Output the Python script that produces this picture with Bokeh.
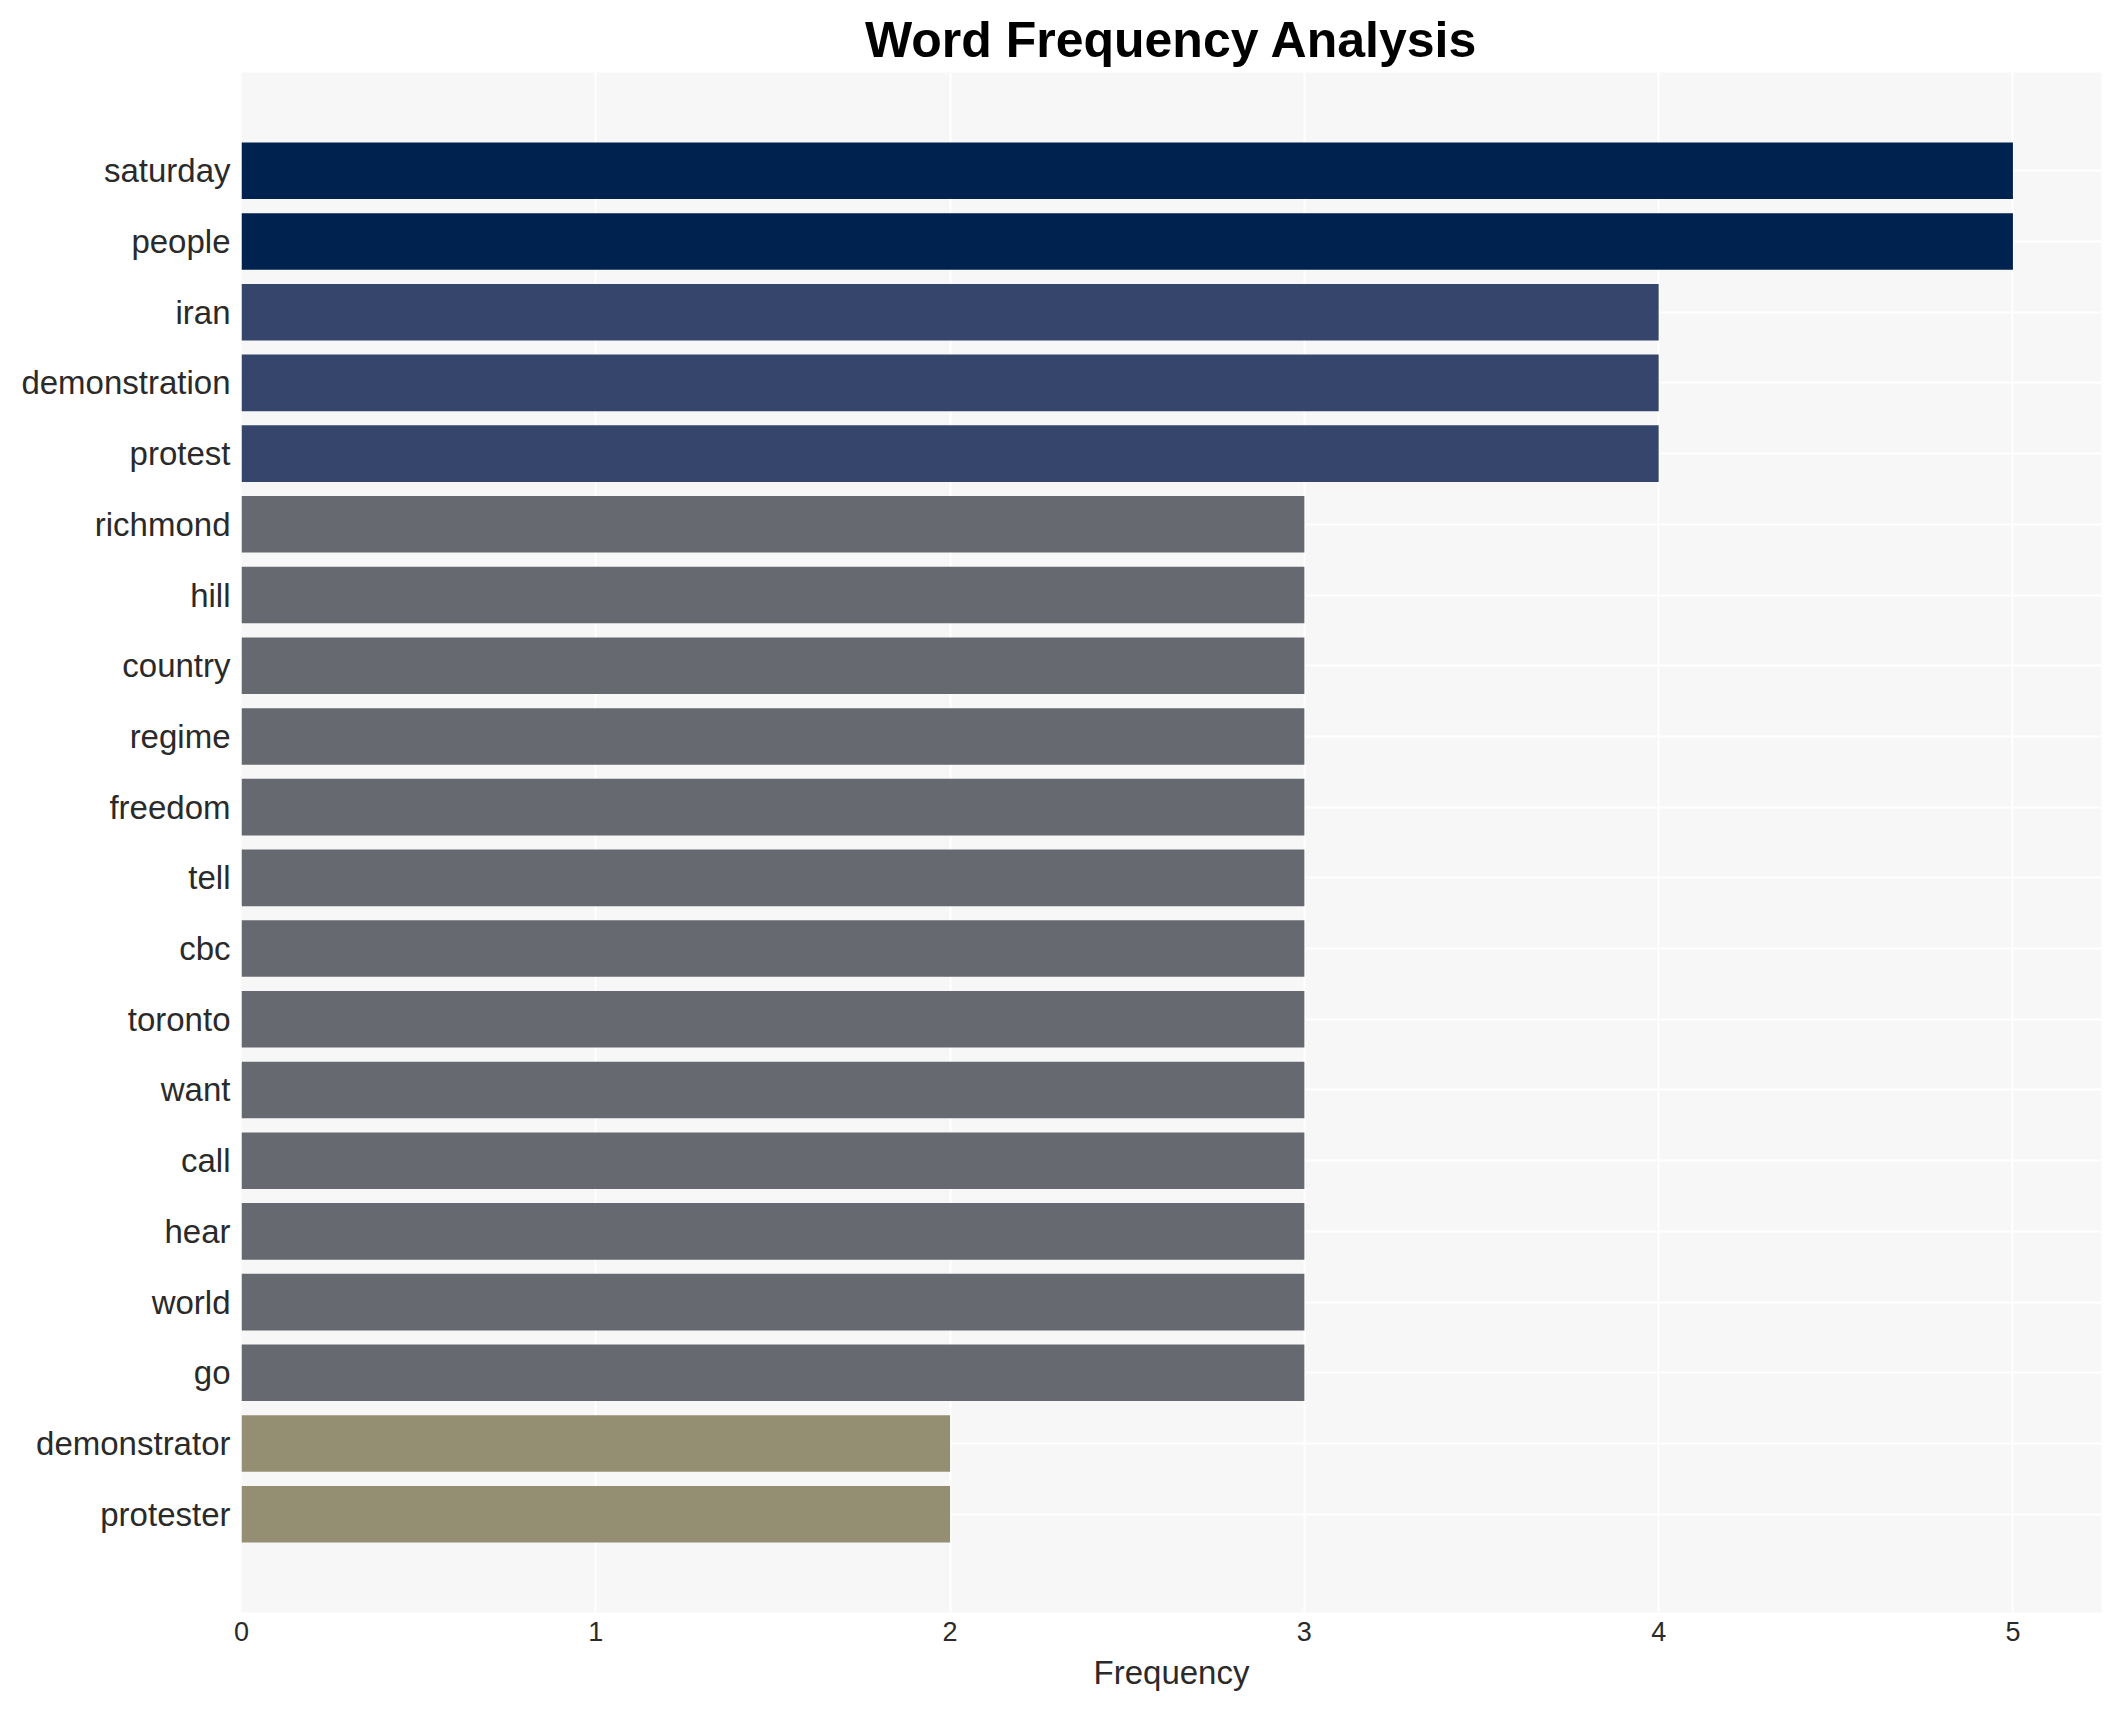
from bokeh.plotting import figure
from bokeh.models import ColumnDataSource, FactorRange
from bokeh.embed import file_html
from bokeh.resources import INLINE

words = ["saturday", "people", "iran", "demonstration", "protest", "richmond", "hill",
         "country", "regime", "freedom", "tell", "cbc", "toronto", "want", "call", "hear",
         "world", "go", "demonstrator", "protester"]
counts = [5, 5, 4, 4, 4, 3, 3, 3, 3, 3, 3, 3, 3, 3, 3, 3, 3, 3, 2, 2]
x_ticks = [0, 1, 2, 3, 4, 5]

palette = {5: "#00224E", 4: "#35456C", 3: "#666970", 2: "#948F72"}
colors = [palette[c] for c in counts]

src = ColumnDataSource(dict(word=words, count=counts, color=colors))

FONT = "Liberation Sans"

p = figure(
    y_range=FactorRange(factors=list(reversed(words)), range_padding=0.089),
    x_range=(0, 5.25),
    frame_width=1860, frame_height=1540,
    min_border_left=241, min_border_right=11, min_border_top=72, min_border_bottom=90,
    output_backend="svg", toolbar_location=None,
    title="Word Frequency Analysis",
    background_fill_color="#F7F7F7", border_fill_color="white",
)
p.outline_line_color = None

p.hbar(y="word", right="count", left=0, height=0.8, color="color", line_color=None, source=src)

p.title.align = "center"
p.title.text_font = FONT
p.title.text_font_style = "bold"
p.title.text_font_size = "50px"
p.title.text_color = "black"
p.title.standoff = 9

p.xaxis.ticker = x_ticks
p.xaxis.axis_label = "Frequency"
p.xaxis.axis_label_text_font = FONT
p.xaxis.axis_label_text_font_style = "normal"
p.xaxis.axis_label_text_font_size = "33px"
p.xaxis.axis_label_text_color = "#2a2a2a"
p.xaxis.axis_label_standoff = 10
p.xaxis.major_label_text_font = FONT
p.xaxis.major_label_text_font_size = "27px"
p.xaxis.major_label_text_color = "#2a2a2a"
p.xaxis.major_label_standoff = 9

p.yaxis.major_label_text_font = FONT
p.yaxis.major_label_text_font_size = "33px"
p.yaxis.major_label_text_color = "#2a2a2a"
p.yaxis.major_label_standoff = 11

for ax in (p.xaxis, p.yaxis):
    ax.axis_line_color = None
    ax.major_tick_line_color = None
    ax.minor_tick_line_color = None
    ax.major_tick_out = 0
    ax.major_tick_in = 0

p.xgrid.grid_line_color = "white"
p.xgrid.grid_line_width = 2
p.ygrid.grid_line_color = "white"
p.ygrid.grid_line_width = 2

open("out.html", "w").write(file_html(p, INLINE))
